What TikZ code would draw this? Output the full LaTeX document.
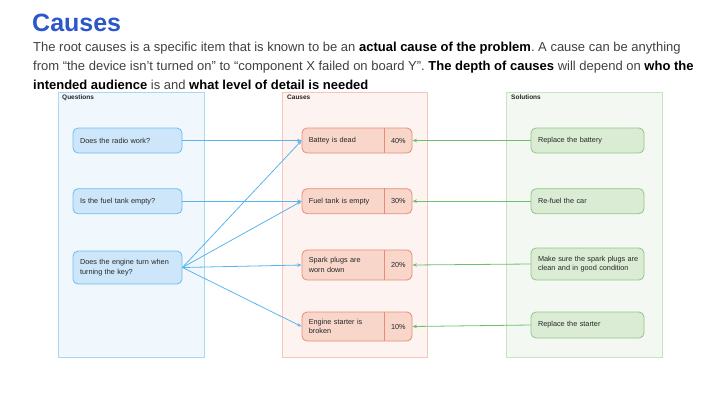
\documentclass[tikz,border=0pt]{standalone}
\usepackage{fontspec}
\setmainfont{Liberation Sans}
\usetikzlibrary{arrows.meta,calc}
\definecolor{titleblue}{HTML}{2B57CB}
\definecolor{bodygray}{HTML}{404040}
\definecolor{qcfill}{HTML}{F1F8FD}
\definecolor{qcdraw}{HTML}{A8D8F5}
\definecolor{qfill}{HTML}{CDE6FA}
\definecolor{qdraw}{HTML}{6CBDF0}
\definecolor{ccfill}{HTML}{FDF3F1}
\definecolor{ccdraw}{HTML}{F6C6BB}
\definecolor{cfill}{HTML}{F8D6CA}
\definecolor{cdraw}{HTML}{E88C76}
\definecolor{scfill}{HTML}{F4F8F2}
\definecolor{scdraw}{HTML}{C6E4C0}
\definecolor{sfill}{HTML}{DAECD4}
\definecolor{sdraw}{HTML}{8FC686}
\definecolor{bluearrow}{HTML}{5AB5EC}
\definecolor{greenarrow}{HTML}{6DC06B}
\frenchspacing
\begin{document}
\begin{tikzpicture}[x=1pt,y=-1pt,
  cont/.style={draw, line width=0.8pt, anchor=north west, inner sep=0pt, minimum width=#1, minimum height=265},
  lbl/.style={anchor=north west, inner sep=0pt, font=\fontsize{6.5}{8}\selectfont\bfseries, text=black!85},
  qbox/.style={draw=qdraw, fill=qfill, line width=0.8pt, rounded corners=5pt, minimum width=109, text width=95, inner xsep=7pt, align=left, font=\fontsize{7.3}{9.5}\selectfont, text=black!85},
  cbox/.style={draw=cdraw, fill=cfill, line width=0.8pt, rounded corners=5pt, minimum width=110, inner sep=0pt},
  ctext/.style={anchor=west, inner sep=0pt, text width=72, align=left, font=\fontsize{7.3}{9.5}\selectfont, text=black!85},
  cpct/.style={inner sep=0pt, font=\fontsize{7.3}{9.5}\selectfont, text=black!85},
  sbox/.style={draw=sdraw, fill=sfill, line width=0.8pt, rounded corners=5pt, minimum width=113, text width=99, inner xsep=7pt, align=left, font=\fontsize{7.3}{9.5}\selectfont, text=black!85},
  barrow/.style={draw=bluearrow, line width=0.8pt, -{Stealth[length=4.5pt,width=3.5pt]}},
  garrow/.style={draw=greenarrow, line width=0.8pt, -{Stealth[length=4.5pt,width=3.5pt]}}
]
\useasboundingbox (0,0) rectangle (720,405);

% title and body
\node[anchor=base west, inner sep=0pt, font=\fontsize{25}{30}\selectfont\bfseries, text=titleblue] (title) at (32,31) {Causes};
\node[anchor=north west, inner sep=0pt, align=left, font=\fontsize{13}{19}\selectfont, text=bodygray] (body) at (33,42)
 {The root causes is a specific item that is known to be an \textbf{\color{black}actual cause of the problem}. A cause can be anything\\
  from “the device isn’t turned on” to “component X failed on board Y”. \textbf{\color{black}The depth of causes} will depend on \textbf{\color{black}who the}\\
  \textbf{\color{black}intended audience} is and \textbf{\color{black}what level of detail is needed}};

% containers
\node[cont=146, draw=qcdraw, fill=qcfill] (qc) at (58,92) {};
\node[cont=145, draw=ccdraw, fill=ccfill] (cc) at (282,92) {};
\node[cont=156, draw=scdraw, fill=scfill] (sc) at (506,92) {};
\node[lbl] (ql) at (62,95) {Questions};
\node[lbl] (cl) at (287,95) {Causes};
\node[lbl] (sl) at (511,95) {Solutions};

% questions
\node[qbox, minimum height=25] (q1) at (127.5,140.5) {Does the radio work?};
\node[qbox, minimum height=25] (q2) at (127.5,201.2) {Is the fuel tank empty?};
\node[qbox, minimum height=33] (q3) at (127.5,267.5) {\mbox{Does the engine turn when}\\\mbox{turning the key?}};

% causes
\node[cbox, minimum height=25] (c1) at (357,140.5) {};
\node[cbox, minimum height=25] (c2) at (357,201.2) {};
\node[cbox, minimum height=30] (c3) at (357,265) {};
\node[cbox, minimum height=29] (c4) at (357,326.5) {};
\foreach \c in {c1,c2,c3,c4}{
  \draw[draw=cdraw, line width=0.8pt] ($(\c.north east)+(-28,0)$) -- ($(\c.south east)+(-28,0)$);
}
\node[ctext] (c1t) at ($(c1.west)+(7,0)$) {Battey is dead};
\node[ctext] (c2t) at ($(c2.west)+(7,0)$) {Fuel tank is empty};
\node[ctext] (c3t) at ($(c3.west)+(7,0)$) {Spark plugs are\\worn down};
\node[ctext] (c4t) at ($(c4.west)+(7,0)$) {Engine starter is\\broken};
\node[cpct] (c1p) at ($(c1.east)+(-14,0)$) {40\%};
\node[cpct] (c2p) at ($(c2.east)+(-14,0)$) {30\%};
\node[cpct] (c3p) at ($(c3.east)+(-14,0)$) {20\%};
\node[cpct] (c4p) at ($(c4.east)+(-14,0)$) {10\%};

% solutions
\node[sbox, minimum height=25] (s1) at (587.5,140.5) {Replace the battery};
\node[sbox, minimum height=25] (s2) at (587.5,201.2) {Re-fuel the car};
\node[sbox, minimum height=32] (s3) at (587.5,264) {\mbox{Make sure the spark plugs are}\\\mbox{clean and in good condition}};
\node[sbox, minimum height=26] (s4) at (587.5,325) {Replace the starter};

% connectors
\draw[barrow] (q1.east) -- (c1.west);
\draw[barrow] (q2.east) -- (c2.west);
\draw[barrow] (q3.east) -- (c1.west);
\draw[barrow] (q3.east) -- (c2.west);
\draw[barrow] (q3.east) -- (c3.west);
\draw[barrow] (q3.east) -- (c4.west);
\draw[garrow] (s1.west) -- (c1.east);
\draw[garrow] (s2.west) -- (c2.east);
\draw[garrow] (s3.west) -- (c3.east);
\draw[garrow] (s4.west) -- (c4.east);
\end{tikzpicture}
\end{document}
